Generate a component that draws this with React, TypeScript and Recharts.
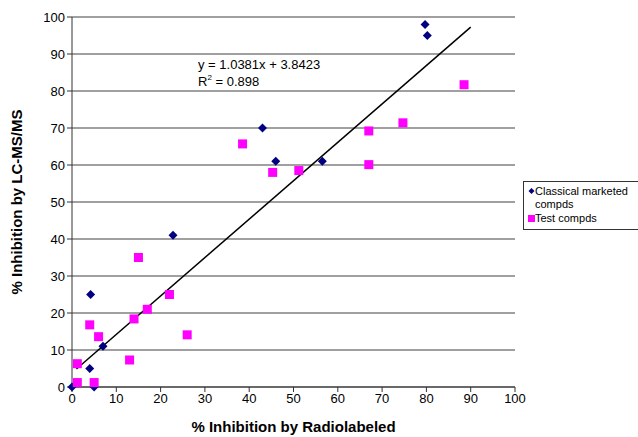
import React from 'react';
import {
  ScatterChart,
  Scatter,
  XAxis,
  YAxis,
  CartesianGrid,
  ReferenceLine,
  Label,
} from 'recharts';

const classicalX = [0, 5, 4, 4.2, 7, 22.8, 43, 46, 56.5, 79.7, 80.2];
const classicalY = [0, 0, 5, 25, 11, 41, 70, 61, 61, 98, 95];

const testX = [1.2, 1.2, 5, 4, 6, 13, 14, 15, 17, 22, 26, 38.5, 45.3, 51.2, 67, 67, 74.7, 88.5];
const testY = [1.2, 6.3, 1.2, 16.8, 13.6, 7.3, 18.4, 35, 21, 25, 14.1, 65.7, 58, 58.5, 69.2, 60.1, 71.4, 81.7];

const axisTicks = [0, 10, 20, 30, 40, 50, 60, 70, 80, 90, 100];

// regression shown on the chart
const slope = 1.0381;
const intercept = 3.8423;
const fitFrom = 1;
const fitTo = 90;

const classical = classicalX.map((x, i) => ({ x, y: classicalY[i] }));
const test = testX.map((x, i) => ({ x, y: testY[i] }));

const font = '"Liberation Sans", Arial, sans-serif';

const Diamond = (props: any) => {
  const { cx, cy } = props;
  const r = 4.5;
  return (
    <polygon
      points={`${cx},${cy - r} ${cx + r},${cy} ${cx},${cy + r} ${cx - r},${cy}`}
      fill="#000080"
    />
  );
};

const Square = (props: any) => {
  const { cx, cy } = props;
  const s = 9;
  return <rect x={cx - s / 2} y={cy - s / 2} width={s} height={s} fill="#FF00FF" />;
};

const LegendBox = () => (
  <div
    style={{
      position: 'absolute',
      left: 523,
      top: 181,
      border: '1px solid #333',
      background: '#fff',
      padding: '3px 4px 4px 4px',
      fontFamily: font,
      fontSize: 11,
      lineHeight: '13px',
      color: '#000',
      width: 118,
      boxSizing: 'border-box',
    }}
  >
    <div style={{ display: 'flex' }}>
      <svg width={7} height={12} style={{ flex: 'none' }}>
        <polygon points="3.5,3 6.5,6 3.5,9 0.5,6" fill="#000080" />
      </svg>
      <span>
        Classical marketed
        <br />
        compds
      </span>
    </div>
    <div style={{ display: 'flex', marginTop: 1 }}>
      <svg width={7} height={12} style={{ flex: 'none' }}>
        <rect x={0} y={3} width={7} height={7} fill="#FF00FF" />
      </svg>
      <span>Test compds</span>
    </div>
  </div>
);

const App = () => {
  return (
    <div style={{ position: 'absolute', left: 0, top: 0, width: 638, height: 437, background: '#fff', overflow: 'hidden' }}>
      <ScatterChart width={638} height={437} margin={{ top: 17, right: 123, bottom: 0, left: 0 }}>
        <CartesianGrid vertical={false} stroke="#808080" strokeWidth={1.5} />
        <XAxis
          type="number"
          dataKey="x"
          domain={[0, 100]}
          ticks={axisTicks}
          height={50}
          stroke="#333"
          tickSize={5}
          tick={{ fill: '#000', fontSize: 13, fontFamily: font }}
        >
          <Label
            value="% Inhibition by Radiolabeled"
            position="insideBottom"
            offset={5}
            style={{ fill: '#000', fontSize: 15, fontWeight: 'bold', fontFamily: font }}
          />
        </XAxis>
        <YAxis
          type="number"
          dataKey="y"
          domain={[0, 100]}
          ticks={axisTicks}
          width={72}
          stroke="#333"
          tickSize={5}
          tick={{ fill: '#000', fontSize: 13, fontFamily: font }}
        >
          <Label
            value="% Inhibition by LC-MS/MS"
            angle={-90}
            position="insideLeft"
            offset={17}
            style={{ textAnchor: 'middle', fill: '#000', fontSize: 15, fontWeight: 'bold', fontFamily: font }}
          />
        </YAxis>
        <ReferenceLine
          segment={[
            { x: fitFrom, y: slope * fitFrom + intercept },
            { x: fitTo, y: slope * fitTo + intercept },
          ]}
          stroke="#000"
          strokeWidth={1.5}
        />
        <Scatter name="Classical marketed compds" data={classical} shape={Diamond} isAnimationActive={false} />
        <Scatter name="Test compds" data={test} shape={Square} isAnimationActive={false} />
      </ScatterChart>
      <LegendBox />
      <div
        style={{
          position: 'absolute',
          left: 198,
          top: 56,
          fontFamily: font,
          fontSize: 13,
          lineHeight: '17px',
          color: '#000',
          whiteSpace: 'nowrap',
        }}
      >
        <div>y = 1.0381x + 3.8423</div>
        <div>
          R<sup style={{ fontSize: 8, verticalAlign: 6, lineHeight: 0 }}>2</sup> = 0.898
        </div>
      </div>
    </div>
  );
};

export default App;
